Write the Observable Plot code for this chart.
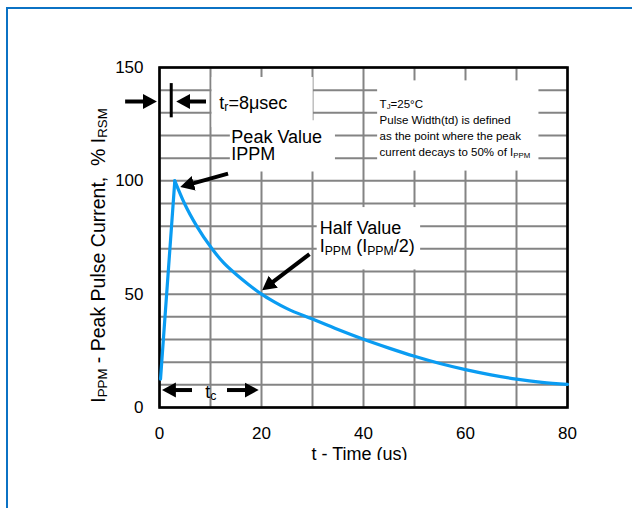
<!DOCTYPE html>
<html>
<head>
<meta charset="utf-8">
<script src="https://cdn.jsdelivr.net/npm/d3@7"></script>
<script src="https://cdn.jsdelivr.net/npm/@observablehq/plot@0.6"></script>
<style>
  html, body { margin: 0; padding: 0; background: white; overflow: hidden; }
  #wrap { position: relative; width: 632px; height: 508px; }
  #border { position: absolute; left: 6px; top: 7px; width: 700px; height: 600px;
            border: 2.3px solid #0b72c4; pointer-events: none; }
  #chart { position: absolute; left: 0; top: 0; }
  #cut { position: absolute; left: 0; top: 460px; width: 632px; height: 48px; background: white; }
</style>
</head>
<body>
<div id="wrap"><div id="chart"></div><div id="cut"></div><div id="border"></div></div>
<script>
// ---- data ----
const timeUs     = [0.2, 3, 4.9, 7.3, 10.3, 12.5, 15, 17.5, 20, 22.5, 25, 30, 35, 40, 45, 50, 55, 60, 65, 70, 75, 80];
const currentPct = [12.5, 100, 90, 80, 70, 64.0, 58.8, 54.2, 50, 46.6, 43.6, 39.0, 34.4, 30.1, 26.2, 22.6, 19.4, 16.7, 14.4, 12.5, 11.1, 10.2];

const xTicks = [0, 20, 40, 60, 80];
const yTicks = [0, 50, 100, 150];
const xGrid  = [0, 10, 20, 30, 40, 50, 60, 70, 80];
const yGrid  = [0, 10, 20, 30, 40, 50, 60, 70, 80, 90, 100, 110, 120, 130, 140, 150];

const xLabel = "t - Time (us)";
const yLabel = "I_{PPM} - Peak Pulse Current,\u00a0 % I_{RSM}";

// annotation text (data coordinates of the baseline start)
const bigNotes = [
  {t: 11.73, v: 131.9, label: "t_{r}=8μsec"},
  {t: 14.09, v: 116.9, label: "Peak Value"},
  {t: 14.09, v: 109.1, label: "IPPM"},
  {t: 31.4,  v: 76.5,  label: "Half Value"},
  {t: 31.4,  v: 68.4,  label: "I_{PPM} (I_{PPM}/2)"},
  {t: 8.98,  v: 4.4,   label: "t_{c}"}
];
const smallNotes = [
  {t: 43.16, v: 132.3, label: "T_{J}=25°C"},
  {t: 43.16, v: 125.0, label: "Pulse Width(td) is defined"},
  {t: 43.16, v: 118.0, label: "as the point where the peak"},
  {t: 43.16, v: 111.0, label: "current decays to 50% of I_{PPM}"}
];
// white boxes behind annotations
const boxes = [
  {t1: 10.31, t2: 30.14, v1: 123.5, v2: 145.6},
  {t1: 13.89, t2: 34.5,  v1: 103.9, v2: 126.5},
  {t1: 42.77, t2: 74.4,  v1: 104.3, v2: 144.1},
  {t1: 30.92, t2: 51.2,  v1: 60.7,  v2: 88.2}
];
// arrows (tail -> shaft end; head drawn by marker)
const arrows = [
  {t1: -6.74, v1: 135,   t2: -1.49, v2: 135},
  {t1: 9.12,  v1: 135,   t2: 4.26,  v2: 135},
  {t1: 13.44, v1: 103.2, t2: 5.01,  v2: 97.9},
  {t1: 29.41, v1: 67.7,  t2: 20.9,  v2: 53.1},
  {t1: 6.37,  v1: 7.7,   t2: 1.45,  v2: 7.7},
  {t1: 13.24, v1: 7.7,   t2: 18.47, v2: 7.7}
];
const riseBar = [{t: 2.3, v1: 127.8, v2: 142.9}];

const curve = timeUs.map((t, i) => ({t, v: currentPct[i]}));
const rise = curve.slice(0, 2);
const decay = curve.slice(1);

const plot = Plot.plot({
  width: 632,
  height: 508,
  marginLeft: 159,
  marginRight: 65,
  marginTop: 67,
  marginBottom: 101,
  style: {fontFamily: "'Liberation Sans', Arial, sans-serif", background: "white", overflow: "visible", color: "black"},
  x: {domain: [0, 80]},
  y: {domain: [0, 150]},
  marks: [
    Plot.gridX(xGrid, {stroke: "#848484", strokeOpacity: 1, strokeWidth: 2}),
    Plot.gridY(yGrid, {stroke: "#848484", strokeOpacity: 1, strokeWidth: 2}),
    Plot.rect(boxes, {x1: "t1", x2: "t2", y1: "v1", y2: "v2", fill: "white"}),
    Plot.frame({stroke: "black", strokeWidth: 2.6}),
    Plot.axisX(xTicks, {tickSize: 0, tickPadding: 19, fontSize: 17, label: null}),
    Plot.axisY(yTicks, {tickSize: 0, tickPadding: 16, fontSize: 17, label: null}),
    Plot.line(rise, {x: "t", y: "v", stroke: "#0a9cf2", strokeWidth: 3.2}),
    Plot.line(decay, {x: "t", y: "v", stroke: "#0a9cf2", strokeWidth: 3.2, curve: "monotone-x"}),
    Plot.link(arrows, {x1: "t1", y1: "v1", x2: "t2", y2: "v2", stroke: "black", strokeWidth: 4}),
    Plot.ruleX(riseBar, {x: "t", y1: "v1", y2: "v2", stroke: "black", strokeWidth: 3}),
    Plot.text(bigNotes, {x: "t", y: "v", text: "label", textAnchor: "start", lineAnchor: "bottom", fontSize: 18, fill: "black"}),
    Plot.text(smallNotes, {x: "t", y: "v", text: "label", textAnchor: "start", lineAnchor: "bottom", fontSize: 11.5, fill: "black"}),
    Plot.text([xLabel], {text: d => d, frameAnchor: "bottom", lineAnchor: "top", dy: 40, dx: -4, fontSize: 18, fill: "black"}),
    Plot.text([yLabel], {text: d => d, frameAnchor: "left", rotate: -90, dx: -61, dy: 18, fontSize: 19.5, fill: "black", textAnchor: "middle", lineAnchor: "middle"})
  ]
});

document.getElementById("chart").appendChild(plot);

const svg = d3.select(plot);
// filled arrow heads
const defs = svg.insert("defs", ":first-child");
defs.append("marker")
  .attr("id", "ahead")
  .attr("markerUnits", "userSpaceOnUse")
  .attr("viewBox", "0 -8 14 16")
  .attr("markerWidth", 14)
  .attr("markerHeight", 16)
  .attr("refX", 9)
  .attr("refY", 0)
  .attr("orient", "auto")
  .append("path")
  .attr("d", "M0,-7.5L14,0L0,7.5Z")
  .attr("fill", "black")
  .attr("stroke", "none");
svg.selectAll('g[aria-label="link"] path, g[aria-label="link"] line').attr("marker-end", "url(#ahead)");

// subscripts: "_{...}"
plot.querySelectorAll("text").forEach(el => {
  const s = el.textContent;
  if (!s.includes("_{")) return;
  const fs = parseFloat(getComputedStyle(el).fontSize) || 16;
  const shift = 0.14 * fs;
  el.textContent = "";
  const parts = s.split(/(_\{[^}]*\})/).filter(p => p);
  let lowered = false;
  for (const p of parts) {
    const ts = document.createElementNS("http://www.w3.org/2000/svg", "tspan");
    if (p.startsWith("_{")) {
      ts.textContent = p.slice(2, -1);
      ts.setAttribute("font-size", (0.68 * fs).toFixed(2));
      if (!lowered) { ts.setAttribute("dy", shift.toFixed(2)); lowered = true; }
    } else {
      ts.textContent = p;
      if (lowered) { ts.setAttribute("dy", (-shift).toFixed(2)); lowered = false; }
    }
    el.appendChild(ts);
  }
});
</script>
</body>
</html>
